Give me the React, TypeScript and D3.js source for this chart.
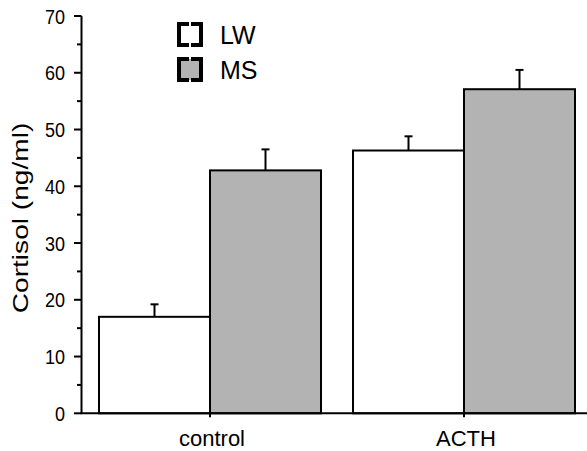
import React from "react";
import * as d3 from "d3";

const categories = ["control", "ACTH"];
const seriesNames = ["LW", "MS"];
const lwValues = [17.0, 46.3];
const lwErrors = [2.2, 2.5];
const msValues = [42.8, 57.1];
const msErrors = [3.7, 3.4];
const yMajorTicks = [0, 10, 20, 30, 40, 50, 60, 70];
const yMinorTicks = [5, 15, 25, 35, 45, 55, 65];
const yLabel = "Cortisol (ng/ml)";

const W = 587;
const H = 451;
const FONT = "Liberation Sans, Arial, Helvetica, sans-serif";

export default function App() {
  const axisX = 81.5;
  const y = d3.scaleLinear().domain([0, 70]).range([413.3, 16]);
  const x0 = d3
    .scaleBand<string>()
    .domain(categories)
    .range([83, 591])
    .paddingInner(0.126)
    .paddingOuter(0.063);
  const x1 = d3
    .scaleBand<string>()
    .domain(seriesNames)
    .range([0, x0.bandwidth()])
    .padding(0);

  const fills: Record<string, string> = { LW: "#ffffff", MS: "#b3b3b3" };
  const bars = categories.flatMap((c, i) => [
    { cat: c, s: "LW", v: lwValues[i], e: lwErrors[i] },
    { cat: c, s: "MS", v: msValues[i], e: msErrors[i] },
  ]);

  const legendItems = [
    { s: "LW", y: 24 },
    { s: "MS", y: 59 },
  ];

  return (
    <div style={{ position: "absolute", left: 0, top: 0 }}>
      <svg width={W} height={H} style={{ display: "block", background: "#fff" }}>
        {/* bars */}
        {bars.map((b, i) => {
          const bx = (x0(b.cat) ?? 0) + (x1(b.s) ?? 0);
          const bw = x1.bandwidth();
          const cx = bx + bw / 2;
          const top = y(b.v);
          const etop = y(b.v + b.e);
          return (
            <g key={i}>
              <line x1={cx} x2={cx} y1={top} y2={etop} stroke="#000" strokeWidth={2} />
              <line x1={cx - 4} x2={cx + 4} y1={etop} y2={etop} stroke="#000" strokeWidth={2} />
              <rect
                x={bx}
                y={top}
                width={bw}
                height={y(0) - top}
                fill={fills[b.s]}
                stroke="#000"
                strokeWidth={2}
              />
            </g>
          );
        })}

        {/* y axis */}
        <line x1={axisX} x2={axisX} y1={y(70)} y2={y(0)} stroke="#000" strokeWidth={2} />
        {yMajorTicks.map((t) => (
          <g key={"M" + t}>
            <line x1={74} x2={axisX} y1={y(t)} y2={y(t)} stroke="#000" strokeWidth={2} />
            <text
              transform={`translate(65, ${y(t)}) scale(1, 1.17)`}
              dy="0.36em"
              textAnchor="end"
              fontFamily={FONT}
              fontSize={18}
              fill="#000"
            >
              {t}
            </text>
          </g>
        ))}
        {yMinorTicks.map((t) => (
          <line key={"m" + t} x1={77} x2={axisX} y1={y(t)} y2={y(t)} stroke="#000" strokeWidth={2} />
        ))}

        {/* x axis */}
        <line x1={axisX - 1} x2={W} y1={y(0)} y2={y(0)} stroke="#000" strokeWidth={2} />
        {categories.map((c) => {
          const cx = (x0(c) ?? 0) + x0.bandwidth() / 2;
          return (
            <g key={c}>
              <line x1={cx} x2={cx} y1={y(0)} y2={y(0) + 4} stroke="#000" strokeWidth={2} />
              <text
                x={cx + 2}
                y={446}
                textAnchor="middle"
                fontFamily={FONT}
                fontSize={22}
                fill="#000"
              >
                {c}
              </text>
            </g>
          );
        })}

        {/* y label */}
        <text
          transform={`translate(28, 218) rotate(-90) scale(1.25, 1)`}
          textAnchor="middle"
          fontFamily={FONT}
          fontSize={22.5}
          fill="#000"
        >
          {yLabel}
        </text>

        {/* legend */}
        {legendItems.map((l) => {
          const lx = 179;
          const w = 22;
          const h = 21;
          const mid = lx + w / 2;
          return (
            <g key={l.s}>
              <rect x={lx} y={l.y} width={w} height={h} fill={fills[l.s]} />
              <path
                d={`M${mid - 1},${l.y} H${lx} V${l.y + h} H${mid - 1}`}
                fill="none"
                stroke="#000"
                strokeWidth={4}
                strokeLinejoin="miter"
              />
              <path
                d={`M${mid + 1},${l.y} H${lx + w} V${l.y + h} H${mid + 1}`}
                fill="none"
                stroke="#000"
                strokeWidth={4}
                strokeLinejoin="miter"
              />
              <text
                x={220}
                y={l.y + 19.5}
                fontFamily={FONT}
                fontSize={25}
                fill="#000"
              >
                {l.s}
              </text>
            </g>
          );
        })}
      </svg>
    </div>
  );
}
